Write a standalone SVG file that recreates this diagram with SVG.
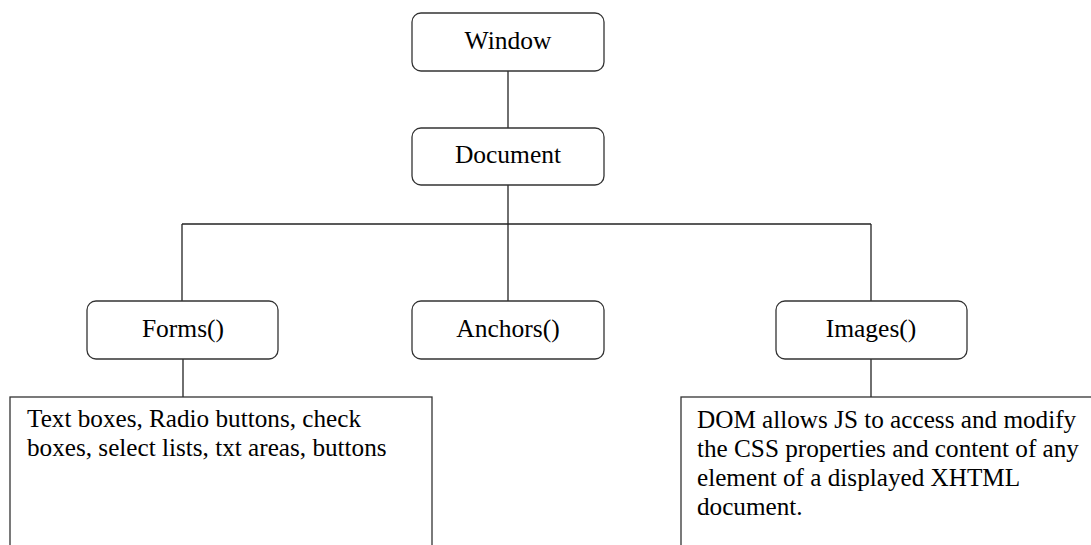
<svg xmlns="http://www.w3.org/2000/svg" width="1091" height="545" viewBox="0 0 1091 545">
<style>
.node rect{fill:#fff;stroke:#333;stroke-width:1.3}
.lbl{font-family:"Liberation Serif",serif;font-size:25.5px;fill:#000;text-anchor:middle}
.txt{font-family:"Liberation Serif",serif;font-size:25.2px;fill:#000}
.conn line{stroke:#222;stroke-width:1.3}
</style>
<rect width="1091" height="545" fill="#fff"/>
<g id="connectors" class="conn">
<line x1="508" y1="71" x2="508" y2="128"/>
<line x1="508" y1="185" x2="508" y2="301"/>
<line x1="182" y1="224" x2="871" y2="224"/>
<line x1="182" y1="224" x2="182" y2="301"/>
<line x1="871" y1="224" x2="871" y2="301"/>
<line x1="183" y1="359" x2="183" y2="397"/>
<line x1="871" y1="359" x2="871" y2="397"/>
</g>
<g id="window" class="node"><rect x="412" y="13" width="192" height="58" rx="9"/><text class="lbl" x="508" y="49">Window</text></g>
<g id="document" class="node"><rect x="412" y="128" width="192" height="57" rx="9"/><text class="lbl" x="508" y="163">Document</text></g>
<g id="forms" class="node"><rect x="87" y="301" width="191" height="58" rx="9"/><text class="lbl" x="183" y="337">Forms()</text></g>
<g id="anchors" class="node"><rect x="412" y="301" width="192" height="58" rx="9"/><text class="lbl" x="508" y="337">Anchors()</text></g>
<g id="images" class="node"><rect x="776" y="301" width="191" height="58" rx="9"/><text class="lbl" x="871" y="337">Images()</text></g>
<g id="forms-detail" class="node"><rect x="10" y="397" width="422" height="160" rx="0"/>
<text class="txt" x="27" y="427">Text boxes, Radio buttons, check</text>
<text class="txt" x="27" y="456">boxes, select lists, txt areas, buttons</text></g>
<g id="images-detail" class="node"><rect x="681" y="397" width="420" height="160" rx="0"/>
<text class="txt" x="697" y="428">DOM allows JS to access and modify</text>
<text class="txt" x="697" y="457">the CSS properties and content of any</text>
<text class="txt" x="697" y="486">element of a displayed XHTML</text>
<text class="txt" x="697" y="515">document.</text></g>
</svg>
